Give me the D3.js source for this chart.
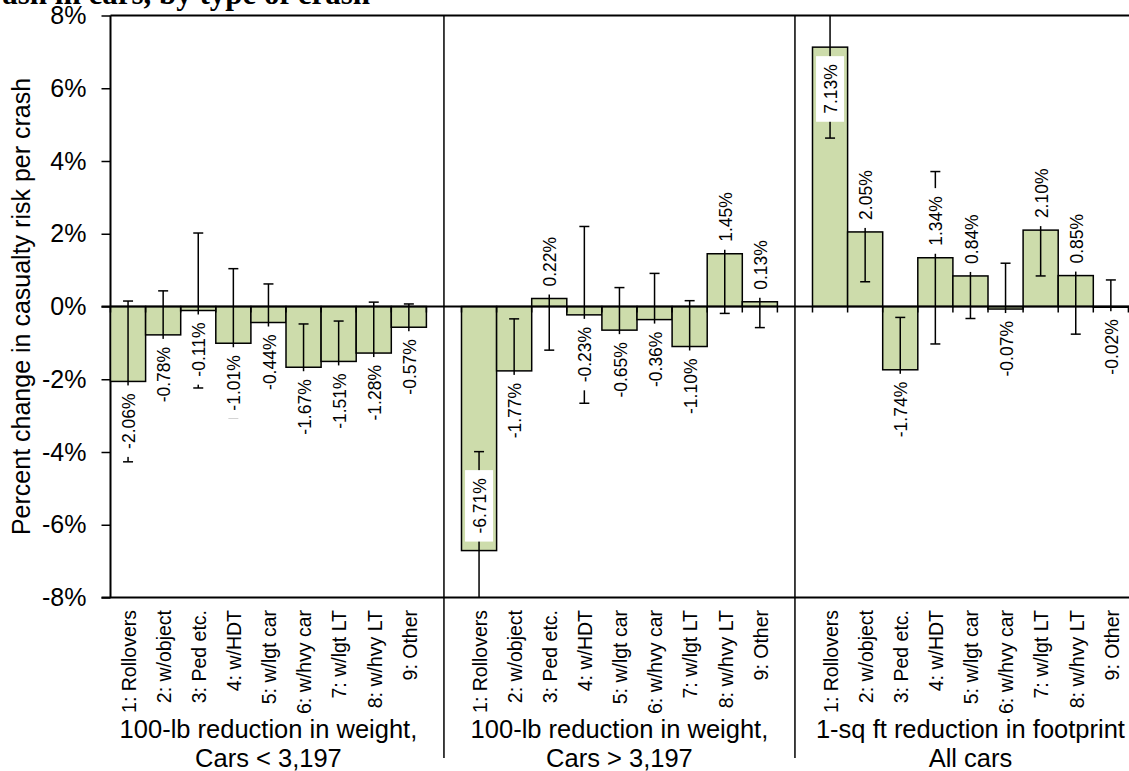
<!DOCTYPE html>
<html>
<head>
<meta charset="utf-8">
<script src="https://cdn.jsdelivr.net/npm/d3@7"></script>
<style>
  body { margin: 0; background: #fff; }
  svg { display: block; font-family: "Liberation Sans", Arial, sans-serif; }
</style>
</head>
<body>
<div id="chart"></div>
<script>
// Data
// =================================
const crashTypes = ["1: Rollovers", "2: w/object", "3: Ped etc.", "4: w/HDT", "5: w/lgt car",
  "6: w/hvy car", "7: w/lgt LT", "8: w/hvy LT", "9: Other"];

const groupLabels = [
  ["100-lb reduction in weight,", "Cars < 3,197"],
  ["100-lb reduction in weight,", "Cars > 3,197"],
  ["1-sq ft reduction in footprint", "All cars"]
];

const lightCars = [-2.06, -0.78, -0.11, -1.01, -0.44, -1.67, -1.51, -1.28, -0.57];
const heavyCars = [-6.71, -1.77, 0.22, -0.23, -0.65, -0.36, -1.10, 1.45, 0.13];
const footprint = [7.13, 2.05, -1.74, 1.34, 0.84, -0.07, 2.10, 0.85, -0.02];

// half-width of each error bar, in percent
const lightCarsErr = [2.21, 1.21, 2.13, 2.05, 1.06, 1.19, 1.11, 1.40, 0.64];
const heavyCarsErr = [2.72, 1.43, 1.42, 2.43, 1.17, 1.27, 1.26, 1.64, 0.71];
const footprintErr = [2.50, 1.37, 1.44, 2.37, 1.17, 1.26, 1.26, 1.61, 0.75];

const yTicks = [-8, -6, -4, -2, 0, 2, 4, 6, 8];

// Build one row per bar; a blank slot sits between the groups
// =================================
const groupValues = [lightCars, heavyCars, footprint];
const groupErrors = [lightCarsErr, heavyCarsErr, footprintErr];
const slots = [];
const bars = [];
groupValues.forEach(function(vals, g) {
  vals.forEach(function(v, i) {
    const key = g + "-" + i;
    slots.push(key);
    bars.push({ key: key, group: g, type: crashTypes[i], value: v, err: groupErrors[g][i] });
  });
  slots.push("gap" + g);
});

// Set up chart
// =================================
const svgWidth = 1129;
const svgHeight = 771;

const svg = d3.select("#chart")
  .append("svg")
  .attr("width", svgWidth)
  .attr("height", svgHeight);

const plotLeft = 110.5;
const plotTop = 15.5;
const plotBottom = 597.5;
const slotStep = 35.1;

const x = d3.scaleBand()
  .domain(slots)
  .range([plotLeft, plotLeft + slots.length * slotStep])
  .padding(0);

const y = d3.scaleLinear()
  .domain([-8, 8])
  .range([plotBottom, plotTop]);

// plain hyphen for negatives, as in the original
const fmt = v => d3.format(".2f")(v).replace("\u2212", "-") + "%";

// title (only its lower part is in view)
svg.append("text")
  .attr("x", 370)
  .attr("y", 4)
  .attr("text-anchor", "end")
  .style("font-family", "'Liberation Serif', 'Times New Roman', serif")
  .style("font-weight", "bold")
  .style("font-size", "31px")
  .text("Effect of weight and footprint reduction on casualty risk per crash in cars, by type of crash");

// y axis
const leftAxis = d3.axisLeft(y)
  .tickValues(yTicks)
  .tickSize(9)
  .tickPadding(15)
  .tickFormat(d => d + "%");

const yAxisG = svg.append("g")
  .attr("transform", `translate(${plotLeft}, 0)`)
  .call(leftAxis);
yAxisG.select(".domain").attr("stroke", "#000").attr("stroke-width", 2)
  .attr("d", `M0,${plotTop}V${plotBottom}`);
yAxisG.selectAll(".tick line").attr("stroke", "#000").attr("stroke-width", 1.5);
yAxisG.selectAll(".tick text")
  .style("font-size", "25px")
  .attr("fill", "#000");

svg.append("text")
  .attr("transform", `translate(30, ${y(0)}) rotate(-90)`)
  .attr("text-anchor", "middle")
  .style("font-size", "25px")
  .text("Percent change in casualty risk per crash");

// frame: top and bottom lines, group dividers
svg.append("line")
  .attr("x1", plotLeft).attr("x2", svgWidth)
  .attr("y1", plotTop).attr("y2", plotTop)
  .attr("stroke", "#000").attr("stroke-width", 2);
svg.append("line")
  .attr("x1", plotLeft - 9).attr("x2", svgWidth)
  .attr("y1", plotBottom).attr("y2", plotBottom)
  .attr("stroke", "#000").attr("stroke-width", 2);

svg.selectAll(".divider")
  .data(["gap0", "gap1"])
  .enter()
  .append("line")
  .attr("class", "divider")
  .attr("x1", d => x(d) + x.bandwidth() / 2)
  .attr("x2", d => x(d) + x.bandwidth() / 2)
  .attr("y1", plotTop)
  .attr("y2", 758)
  .attr("stroke", "#000")
  .attr("stroke-width", 1.5);

// bars
svg.append("g")
  .selectAll("rect")
  .data(bars)
  .enter()
  .append("rect")
  .attr("x", d => x(d.key))
  .attr("width", x.bandwidth())
  .attr("y", d => y(Math.max(0, d.value)))
  .attr("height", d => Math.abs(y(d.value) - y(0)))
  .attr("fill", "#cddcab")
  .attr("stroke", "#000")
  .attr("stroke-width", 1.5);

// error bars, clipped to the plot
const clampV = v => Math.max(-8, Math.min(8, v));
const errG = svg.append("g").attr("stroke", "#000").attr("stroke-width", 1.5);
bars.forEach(function(d) {
  const cx = x(d.key) + x.bandwidth() / 2;
  const lo = d.value - d.err;
  const hi = d.value + d.err;
  errG.append("line")
    .attr("x1", cx).attr("x2", cx)
    .attr("y1", y(clampV(lo))).attr("y2", y(clampV(hi)));
  [lo, hi].forEach(function(v) {
    if (v >= -8 && v <= 8) {
      errG.append("line")
        .attr("x1", cx - 5).attr("x2", cx + 5)
        .attr("y1", y(v)).attr("y2", y(v));
    }
  });
});

// zero line with category boundary ticks
svg.append("line")
  .attr("x1", plotLeft - 9).attr("x2", svgWidth)
  .attr("y1", y(0)).attr("y2", y(0))
  .attr("stroke", "#000").attr("stroke-width", 2);
svg.append("g")
  .selectAll("line")
  .data(d3.range(slots.length + 1))
  .enter()
  .append("line")
  .attr("x1", i => plotLeft + i * slotStep)
  .attr("x2", i => plotLeft + i * slotStep)
  .attr("y1", y(0))
  .attr("y2", y(0) + 6)
  .attr("stroke", "#000")
  .attr("stroke-width", 1.5);

// value labels, white boxes, rotated
const labelSize = 17.5;
const labelG = svg.append("g");
bars.forEach(function(d) {
  const cx = x(d.key) + x.bandwidth() / 2;
  const t = labelG.append("text")
    .attr("text-anchor", "middle")
    .style("font-size", labelSize + "px")
    .text(fmt(d.value));
  const len = t.node().getComputedTextLength();
  const end = y(d.value);
  const up = d.value >= 0;
  // outside the bar end unless it would leave the plot
  let centerY = up ? end - 12 - len / 2 : end + 12 + len / 2;
  if (centerY - len / 2 < plotTop || centerY + len / 2 > plotBottom) {
    centerY = up ? end + 17 + len / 2 : end - 17 - len / 2;
  }
  labelG.insert("rect", "text")
    .attr("x", cx - 14)
    .attr("width", 28)
    .attr("y", centerY - len / 2 - 8)
    .attr("height", len + 16)
    .attr("fill", "#fff");
  t.attr("transform", `translate(${cx + 1}, ${centerY}) rotate(-90)`)
    .attr("dy", "0.35em");
});

// category labels
svg.append("g")
  .selectAll("text")
  .data(bars)
  .enter()
  .append("text")
  .attr("transform", d => `translate(${x(d.key) + x.bandwidth() / 2 + 1}, 610) rotate(-90)`)
  .attr("text-anchor", "end")
  .attr("dy", "0.35em")
  .style("font-size", "19.5px")
  .text(d => d.type);

// group labels
groupLabels.forEach(function(lines, g) {
  const first = x(g + "-0");
  const last = x(g + "-8") + x.bandwidth();
  const t = svg.append("text")
    .attr("text-anchor", "middle")
    .style("font-size", "25.5px");
  lines.forEach(function(line, k) {
    t.append("tspan")
      .attr("x", (first + last) / 2)
      .attr("y", 738 + k * 29)
      .text(line);
  });
});
</script>
</body>
</html>
